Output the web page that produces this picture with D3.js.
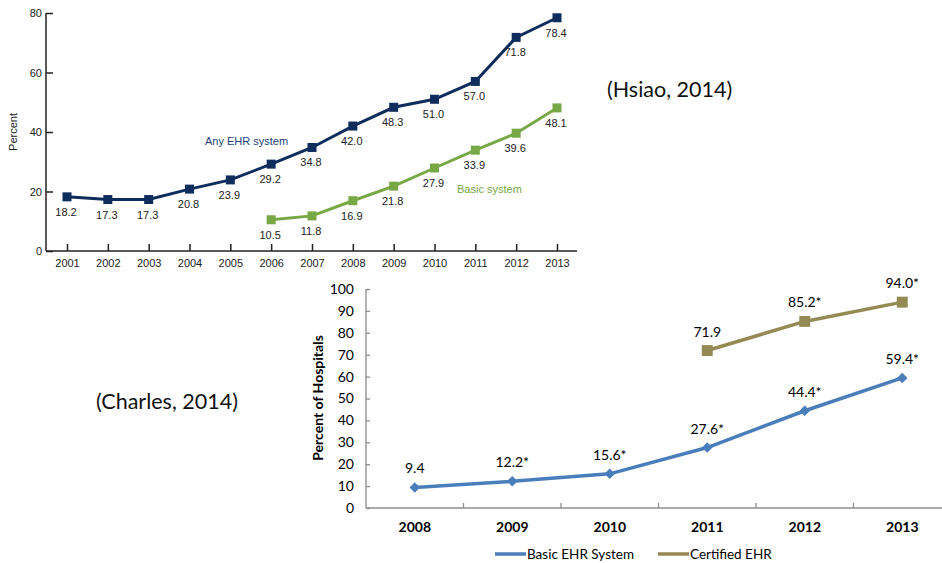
<!DOCTYPE html>
<head>
    <meta charset="UTF-8" />
    <style>
        body { margin: 0; padding: 0; background: #fff; }
        svg { display: block; }
        .top text { font-family: "Liberation Sans", Arial, sans-serif; font-size: 11px; fill: #222; }
        .bot text { font-family: Lato, "Open Sans", sans-serif; fill: #000; }
        .cite { font-family: Lato, "Open Sans", sans-serif; font-size: 21.5px; fill: #111; }
    </style>
    <title>EHR adoption</title>
</head>
<svg width="942" height="563"></svg>
<script src="https://d3js.org/d3.v7.min.js"></script>
<script>
    // top chart (Hsiao, 2014)
    const hsiaoYears = [2001, 2002, 2003, 2004, 2005, 2006, 2007, 2008, 2009, 2010, 2011, 2012, 2013]
    const anyEhr = [18.2, 17.3, 17.3, 20.8, 23.9, 29.2, 34.8, 42.0, 48.3, 51.0, 57.0, 71.8, 78.4]
    const basicYears = [2006, 2007, 2008, 2009, 2010, 2011, 2012, 2013]
    const basicSys = [10.5, 11.8, 16.9, 21.8, 27.9, 33.9, 39.6, 48.1]
    const hsiaoTicks = [0, 20, 40, 60, 80]

    // bottom chart (Charles, 2014)
    const charlesYears = [2008, 2009, 2010, 2011, 2012, 2013]
    const basicEhr = [9.4, 12.2, 15.6, 27.6, 44.4, 59.4]
    const basicEhrLabels = ["9.4", "12.2*", "15.6*", "27.6*", "44.4*", "59.4*"]
    const certYears = [2011, 2012, 2013]
    const certEhr = [71.9, 85.2, 94.0]
    const certLabels = ["71.9", "85.2*", "94.0*"]
    const charlesTicks = [0, 10, 20, 30, 40, 50, 60, 70, 80, 90, 100]

    const svg = d3.select("svg")

    // ---------- top ----------
    const navy = "#0f2d5c", green = "#78a846"
    const gTop = svg.append("g").attr("class", "top")
    const x1 = d3.scalePoint().domain(hsiaoYears).range([67, 557])
    const y1 = d3.scaleLinear().domain([0, 80]).range([251, 13])

    gTop.append("g").attr("transform", "translate(46,0)")
        .call(d3.axisLeft(y1).tickValues(hsiaoTicks).tickSize(-7).tickPadding(4))
        .call(g => g.selectAll("line,path").attr("stroke", "#222").attr("stroke-width", 1.5))
        .call(g => g.select(".domain").attr("d", "M0,13V251"))
        .call(g => g.selectAll("text").style("font-size", "11px").attr("fill", "#222"))

    gTop.append("g").attr("transform", "translate(0,251)")
        .call(d3.axisBottom(x1).tickSize(-7).tickPadding(3))
        .call(g => g.selectAll("line,path").attr("stroke", "#222").attr("stroke-width", 1.5))
        .call(g => g.select(".domain").attr("d", "M46,0H577"))
        .call(g => g.selectAll("text").attr("dy", "1.15em").attr("fill", "#222"))

    gTop.append("text").attr("transform", "translate(17,132) rotate(-90)")
        .attr("text-anchor", "middle").text("Percent")

    function topSeries(xs, ys, color) {
        const pts = xs.map((d, i) => [x1(d), y1(ys[i]), ys[i]])
        gTop.append("path").attr("fill", "none").attr("stroke", color).attr("stroke-width", 3)
            .attr("d", d3.line()(pts.map(p => [p[0], p[1]])))
        gTop.selectAll(null).data(pts).enter().append("rect")
            .attr("x", p => p[0] - 4.5).attr("y", p => p[1] - 4.5)
            .attr("width", 9).attr("height", 9).attr("fill", color)
        gTop.selectAll(null).data(pts).enter().append("text")
            .attr("x", p => p[0] - 1).attr("y", p => p[1] + 19)
            .attr("text-anchor", "middle").text(p => p[2].toFixed(1))
    }
    topSeries(hsiaoYears, anyEhr, navy)
    topSeries(basicYears, basicSys, green)

    gTop.append("text").attr("x", 205).attr("y", 145).style("fill", "#1d3f7a").text("Any EHR system")
    gTop.append("text").attr("x", 457).attr("y", 193).style("fill", "#78a846").text("Basic system")

    svg.append("text").attr("class", "cite").attr("x", 607).attr("y", 97).text("(Hsiao, 2014)")
    svg.append("text").attr("class", "cite").attr("x", 96).attr("y", 409).text("(Charles, 2014)")

    // ---------- bottom ----------
    const blue = "#4a7ebb", olive = "#948a54"
    const bot = svg.append("g").attr("class", "bot")
    const x2 = d3.scaleBand().domain(charlesYears).range([366, 951])
    const cx = d => x2(d) + x2.bandwidth() / 2
    const y2 = d3.scaleLinear().domain([0, 100]).range([508, 289])

    bot.append("g").attr("transform", "translate(366,0)")
        .call(d3.axisLeft(y2).tickValues(charlesTicks).tickSize(-4).tickPadding(12))
        .call(g => g.selectAll("line,path").attr("stroke", "#8c8c8c").attr("stroke-width", 1.3))
        .call(g => g.select(".domain").attr("d", "M0,289V508"))
        .call(g => g.selectAll("text").style("font-size", "14px").attr("fill", "#000"))

    bot.append("g").attr("transform", "translate(0,508)")
        .call(d3.axisBottom(x2).tickSize(0).tickPadding(14))
        .call(g => g.selectAll(".tick line").remove())
        .call(g => g.select(".domain").attr("d", "M366,0H942").attr("stroke", "#8c8c8c").attr("stroke-width", 1.3))
        .call(g => g.selectAll("text").style("font-size", "14px").style("font-weight", "bold").attr("fill", "#000"))

    bot.append("g").selectAll("line").data(charlesYears.slice(1)).enter().append("line")
        .attr("x1", d => x2(d)).attr("x2", d => x2(d)).attr("y1", 508).attr("y2", 503)
        .attr("stroke", "#8c8c8c").attr("stroke-width", 1.3)

    bot.append("text").attr("transform", "translate(323,398) rotate(-90)")
        .attr("text-anchor", "middle").style("font-size", "14px").style("font-weight", "bold")
        .text("Percent of Hospitals")

    const diamond = d3.symbol().type(d3.symbolDiamond2).size(70)
    const square = d3.symbol().type(d3.symbolSquare).size(120)

    function botSeries(xs, ys, labels, color, sym) {
        const pts = xs.map((d, i) => [cx(d), y2(ys[i]), labels[i]])
        bot.append("path").attr("fill", "none").attr("stroke", color).attr("stroke-width", 3.5)
            .attr("d", d3.line()(pts.map(p => [p[0], p[1]])))
        bot.selectAll(null).data(pts).enter().append("path")
            .attr("transform", p => `translate(${p[0]},${p[1]})`).attr("d", sym).attr("fill", color)
        bot.selectAll(null).data(pts).enter().append("text")
            .attr("x", p => p[0]).attr("y", p => p[1] - 14)
            .attr("text-anchor", "middle").style("font-size", "14px").text(p => p[2])
    }
    botSeries(charlesYears, basicEhr, basicEhrLabels, blue, diamond)
    botSeries(certYears, certEhr, certLabels, olive, square)

    // legend
    const legend = [
        { name: "Basic EHR System", color: blue, sym: diamond, x: 495 },
        { name: "Certified EHR", color: olive, sym: square, x: 658 }
    ]
    const lg = bot.selectAll(".lg").data(legend).enter().append("g")
        .attr("transform", d => `translate(${d.x},554)`)
    lg.append("line").attr("x1", 0).attr("x2", 31).attr("stroke", d => d.color).attr("stroke-width", 3.5)
    lg.append("path").attr("transform", "translate(15.5,0)").attr("d", d => d.sym).attr("fill", d => d.color)
    lg.append("text").attr("x", 32).attr("dy", "0.35em").style("font-size", "13.5px").text(d => d.name)
</script>
